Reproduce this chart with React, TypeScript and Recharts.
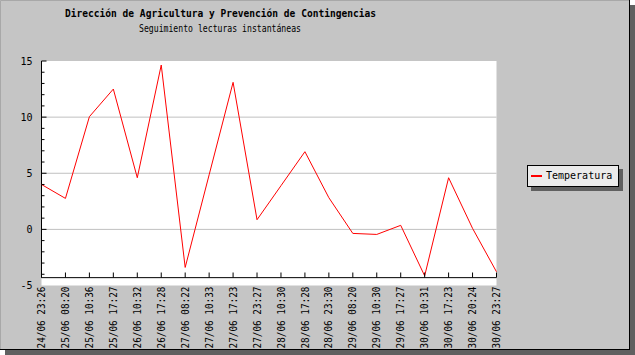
import React from "react";
import { LineChart, Line, XAxis, YAxis, ReferenceLine, CartesianGrid, Legend } from "recharts";

const categories = [
  "24/06 23:26", "25/06 08:20", "25/06 10:36", "25/06 17:27", "26/06 10:32",
  "26/06 17:28", "27/06 08:22", "27/06 10:33", "27/06 17:23", "27/06 23:27",
  "28/06 10:30", "28/06 17:28", "28/06 23:30", "29/06 08:20", "29/06 10:30",
  "29/06 17:27", "30/06 10:31", "30/06 17:23", "30/06 20:24", "30/06 23:27",
];
const temperatura = [
  4.0, 2.76, 10.04, 12.5, 4.6, 14.64, -3.39, 4.86, 13.1, 0.86,
  3.89, 6.92, 2.82, -0.36, -0.45, 0.36, -4.14, 4.6, 0.09, -3.78,
];
const yTicks = [-5, -4, -3, -2, -1, 0, 1, 2, 3, 4, 5, 6, 7, 8, 9, 10, 11, 12, 13, 14, 15];
const gridValues = [0, 5, 10];
const X_AXIS_POS = -4.3;
const TITLE = "Dirección de Agricultura y Prevención de Contingencias";
const SUBTITLE = "Seguimiento lecturas instantáneas";
const SERIES_NAME = "Temperatura";

const data = categories.map((c, i) => ({ cat: c, temp: temperatura[i] }));

const MONO = "'DejaVu Sans Mono', 'Liberation Mono', monospace";

const XTick = (props: any) => {
  const { x, y, payload } = props;
  return (
    <g>
      <line x1={x} x2={x} y1={y - 13} y2={y - 8} stroke="#000" strokeWidth={1} />
      <text
        x={x}
        y={y + 1}
        transform={`rotate(-90, ${x}, ${y + 1})`}
        textAnchor="end"
        dy="0.36em"
        fontFamily={MONO}
        fontSize={10}
        textLength={62}
        lengthAdjust="spacingAndGlyphs"
        fill="#000"
      >
        {payload.value}
      </text>
    </g>
  );
};

const YTick = (props: any) => {
  const { x, y, payload } = props;
  const v = payload.value as number;
  const major = v % 5 === 0;
  return (
    <g>
      {v > X_AXIS_POS && (
        <line x1={x} x2={x + (major ? 5 : 3)} y1={y} y2={y} stroke="#000" strokeWidth={1} />
      )}
      {major && (
        <text x={x - 9} y={y} dy="0.36em" textAnchor="end" fontFamily={MONO} fontSize={10} fill="#000">
          {v}
        </text>
      )}
    </g>
  );
};

const LegendContent = (props: any) => {
  const item = (props.payload && props.payload[0]) || { value: SERIES_NAME, color: "#ff0000" };
  return (
    <div style={{ position: "relative", width: 92, height: 22 }}>
      <div style={{ position: "absolute", left: 4, top: 4, width: 92, height: 22, background: "#606060" }} />
      <div
        style={{
          position: "absolute",
          left: 0,
          top: 0,
          width: 90,
          height: 20,
          background: "#ebebeb",
          border: "1px solid #000",
        }}
      >
        <div style={{ position: "absolute", left: 3, top: 9, width: 11, height: 2, background: item.color }} />
        <div
          style={{
            position: "absolute",
            left: 18,
            top: 3,
            fontFamily: MONO,
            fontSize: 10,
            lineHeight: "13px",
            color: "#000",
            whiteSpace: "nowrap",
          }}
        >
          {item.value}
        </div>
      </div>
    </div>
  );
};

export default function App() {
  return (
    <div style={{ position: "absolute", left: 0, top: 0, width: 635, height: 355 }}>
      <svg width={635} height={355} style={{ position: "absolute", left: 0, top: 0 }}>
        <rect x={5} y={5} width={630} height={350} fill="#606060" />
        <rect x={0} y={0} width={630} height={350} fill="#c5c5c5" />
        <line x1={0.5} y1={0.5} x2={629.5} y2={0.5} stroke="#a8a8a8" />
        <line x1={0.5} y1={0.5} x2={0.5} y2={349.5} stroke="#a8a8a8" />
        <line x1={629.5} y1={0} x2={629.5} y2={350} stroke="#000" />
        <line x1={0} y1={349.5} x2={630} y2={349.5} stroke="#000" />
        <text
          x={220.5}
          y={17}
          textAnchor="middle"
          fontFamily={MONO}
          fontWeight="bold"
          fontSize={11}
          textLength={311}
          lengthAdjust="spacingAndGlyphs"
          fill="#000"
        >
          {TITLE}
        </text>
        <text
          x={220}
          y={32}
          textAnchor="middle"
          fontFamily={MONO}
          fontSize={10}
          textLength={162}
          lengthAdjust="spacingAndGlyphs"
          fill="#000"
        >
          {SUBTITLE}
        </text>
      </svg>
      <div style={{ position: "absolute", left: 0, top: 0 }}>
        <LineChart width={635} height={355} data={data} margin={{ top: 61, right: 138.5, bottom: 9.5, left: 0.5 }}>
          <CartesianGrid horizontal={false} vertical={false} fill="#ffffff" />
          {gridValues.map((g) => (
            <ReferenceLine key={g} y={g} stroke="#c0c0c0" strokeWidth={1} ifOverflow="extendDomain" />
          ))}
          <XAxis
            dataKey="cat"
            height={60}
            tickSize={0}
            tickMargin={0}
            axisLine={false}
            tickLine={false}
            interval={0}
            tick={<XTick />}
          />
          <YAxis
            width={41}
            domain={[-5, 15]}
            ticks={yTicks}
            type="number"
            allowDataOverflow
            tickSize={0}
            tickMargin={0}
            axisLine={false}
            tickLine={false}
            interval={0}
            tick={<YTick />}
          />
          <ReferenceLine y={X_AXIS_POS} stroke="#000" strokeWidth={1} />
          <ReferenceLine
            segment={[
              { x: categories[0], y: 15 },
              { x: categories[0], y: X_AXIS_POS },
            ]}
            stroke="#000"
            strokeWidth={1}
          />
          <Line
            type="linear"
            dataKey="temp"
            name={SERIES_NAME}
            stroke="#ff0000"
            strokeWidth={1}
            dot={false}
            isAnimationActive={false}
          />
          <Legend
            layout="horizontal"
            verticalAlign="middle"
            align="center"
            content={<LegendContent />}
            wrapperStyle={{ position: "absolute", left: 527, top: 165, width: 96, height: 26 }}
          />
        </LineChart>
      </div>
    </div>
  );
}
